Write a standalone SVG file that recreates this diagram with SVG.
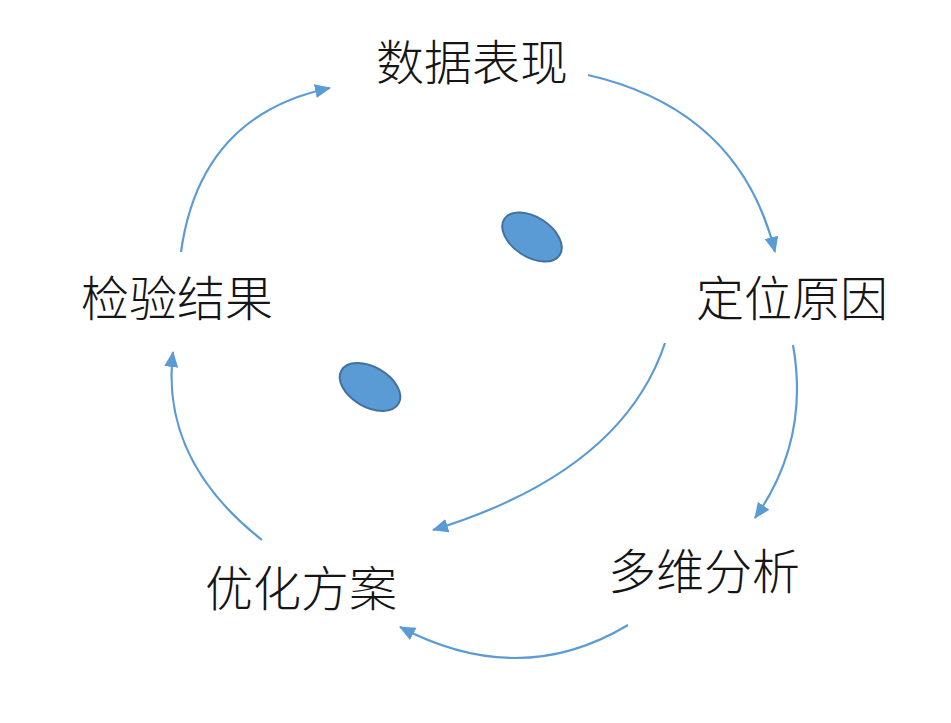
<svg xmlns="http://www.w3.org/2000/svg" width="951" height="723" viewBox="0 0 951 723">
<style>
.lbl{font-family:"Noto Sans CJK SC","Noto Sans",sans-serif;font-size:48px;font-weight:300;fill:#151515;text-anchor:middle}
.c{fill:none;stroke:#5b9bd5;stroke-width:2.2}
.dot{fill:#5b9bd5;stroke:#41719c;stroke-width:2}
</style>
<defs>
<marker id="ah" markerUnits="userSpaceOnUse" markerWidth="18" markerHeight="16" refX="15" refY="7" orient="auto">
<path d="M0,0 L16,7 L0,14 Z" fill="#5b9bd5"/>
</marker>
</defs>
<rect width="951" height="723" fill="#ffffff"/>
<g id="connectors">
<path class="c" d="M181,252 Q200,115 330,88" marker-end="url(#ah)"/>
<path class="c" d="M588,75 Q740,110 775,252" marker-end="url(#ah)"/>
<path class="c" d="M793,345 Q810,440 755,518" marker-end="url(#ah)"/>
<path class="c" d="M628,625 Q520,690 400,627" marker-end="url(#ah)"/>
<path class="c" d="M665,343 Q622,472 433,530" marker-end="url(#ah)"/>
<path class="c" d="M262,540 Q160,460 173,352" marker-end="url(#ah)"/>
</g>
<g id="n1"><text class="lbl" x="472" y="80">数据表现</text></g>
<g id="n2"><text class="lbl" x="792" y="316">定位原因</text></g>
<g id="n3"><text class="lbl" x="704" y="589">多维分析</text></g>
<g id="n4"><text class="lbl" x="301" y="606">优化方案</text></g>
<g id="n5"><text class="lbl" x="177" y="316">检验结果</text></g>
<g id="eyes">
<ellipse class="dot" cx="532" cy="237" rx="33" ry="20" transform="rotate(33 532 237)"/>
<ellipse class="dot" cx="370" cy="387" rx="33" ry="20" transform="rotate(30 370 387)"/>
</g>
</svg>
